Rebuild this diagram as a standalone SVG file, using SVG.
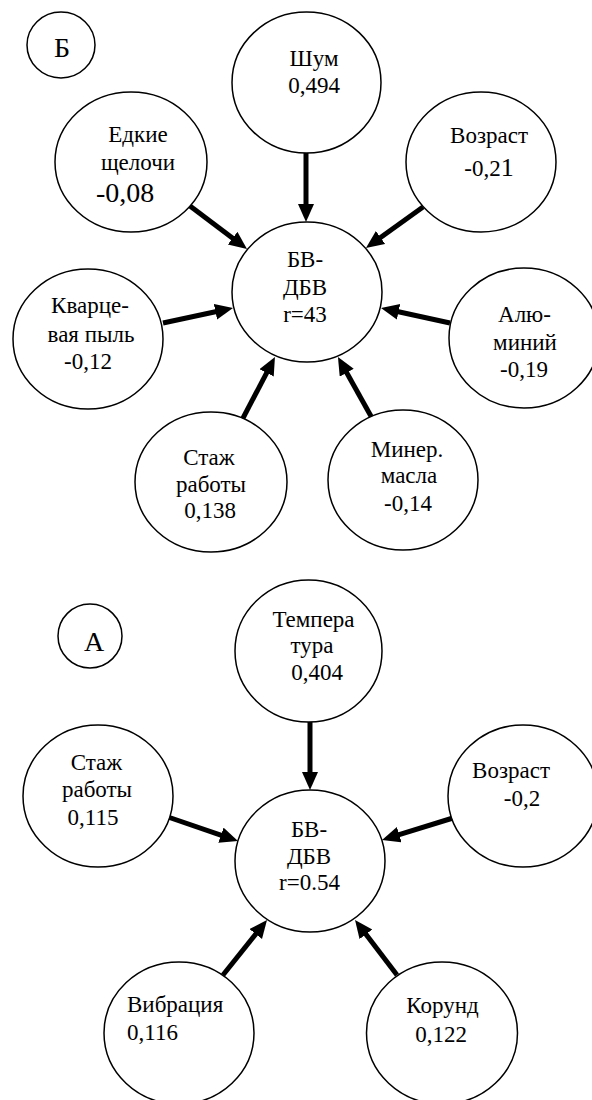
<svg xmlns="http://www.w3.org/2000/svg" width="592" height="1100" viewBox="0 0 592 1100">
<style>
.n{fill:#fff;stroke:#000;stroke-width:1.5}
text{font-family:"Times New Roman",Tinos,"Liberation Serif","Noto Serif","DejaVu Serif",serif;font-size:23px;fill:#000;text-anchor:middle}
.l{text-anchor:start}
.big{font-size:28px}
.c{stroke:#000;stroke-width:5;fill:none;marker-end:url(#ah)}
</style>
<defs>
<marker id="ah" markerUnits="userSpaceOnUse" markerWidth="20" markerHeight="18" refX="6" refY="8" orient="auto">
<path d="M0,0 L18,8 L0,16 z" fill="#000"/>
</marker>
</defs>
<rect width="592" height="1100" fill="#fff"/>
<g id="connectors">
<line class="c" x1="306" y1="153" x2="306" y2="210"/>
<line class="c" x1="190" y1="206" x2="237.4" y2="241.8"/>
<line class="c" x1="423" y1="207" x2="375.7" y2="241"/>
<line class="c" x1="163" y1="323" x2="221.3" y2="310.5"/>
<line class="c" x1="450" y1="323" x2="392.7" y2="310.5"/>
<line class="c" x1="242" y1="420" x2="269.4" y2="367.6"/>
<line class="c" x1="372" y1="418" x2="343.8" y2="367.5"/>
<line class="c" x1="310" y1="722" x2="310" y2="778"/>
<line class="c" x1="168" y1="817" x2="226.6" y2="837.1"/>
<line class="c" x1="453" y1="818" x2="393.5" y2="836.4"/>
<line class="c" x1="223" y1="975" x2="259.5" y2="929.4"/>
<line class="c" x1="397" y1="975" x2="362.3" y2="929.5"/>
</g>
<g id="label-B"><ellipse class="n" cx="61" cy="45" rx="34" ry="33"/><text class="big" x="62" y="57">Б</text></g>
<g id="shum"><ellipse class="n" cx="306.5" cy="82.5" rx="74.5" ry="70.5"/><text x="314" y="66">Шум</text><text x="314" y="93">0,494</text></g>
<g id="edkie"><ellipse class="n" cx="131" cy="162" rx="76" ry="70"/><text x="138" y="142">Едкие</text><text x="138" y="170">щелочи</text><text class="l big" x="96" y="202">-0,08</text></g>
<g id="vozrast-b"><ellipse class="n" cx="481" cy="162" rx="75" ry="70"/><text x="489" y="143">Возраст</text><text x="489" y="176">-0,2<tspan font-size="26">1</tspan></text></g>
<g id="center-b"><ellipse class="n" cx="307" cy="292" rx="75" ry="70"/><text x="305" y="267">БВ-</text><text x="305" y="295">ДБВ</text><text x="305" y="322">r=43</text></g>
<g id="kvarc"><ellipse class="n" cx="88" cy="339" rx="75" ry="70"/><text x="90" y="313">Кварце-</text><text x="91" y="342">вая пыль</text><text x="88" y="369">-0,12</text></g>
<g id="alum"><ellipse class="n" cx="524" cy="338" rx="75" ry="70"/><text x="524.5" y="322">Алю-</text><text x="525" y="350">миний</text><text x="524" y="377">-0,19</text></g>
<g id="stazh-b"><ellipse class="n" cx="211" cy="482" rx="76" ry="70"/><text x="209" y="465">Стаж</text><text x="211" y="492">работы</text><text x="210" y="518">0,138</text></g>
<g id="miner"><ellipse class="n" cx="403" cy="480" rx="75" ry="70"/><text x="407" y="457">Минер.</text><text x="409" y="483">масла</text><text x="408" y="511">-0,14</text></g>
<g id="label-A"><ellipse class="n" cx="90" cy="636" rx="32" ry="32"/><text class="big" x="94" y="651">А</text></g>
<g id="temp"><ellipse class="n" cx="308.5" cy="651" rx="73.5" ry="71"/><text x="313.5" y="627">Темпера</text><text x="312" y="653">тура</text><text x="317" y="680">0,404</text></g>
<g id="stazh-a"><ellipse class="n" cx="98" cy="796" rx="75" ry="71"/><text x="96.5" y="770">Стаж</text><text x="97" y="797">работы</text><text x="93" y="825">0,115</text></g>
<g id="vozrast-a"><ellipse class="n" cx="523" cy="796" rx="75" ry="71"/><text x="511" y="778">Возраст</text><text x="522" y="806">-0,2</text></g>
<g id="center-a"><ellipse class="n" cx="310" cy="861" rx="75" ry="71"/><text x="309" y="837">БВ-</text><text x="309" y="864">ДБВ</text><text x="309.5" y="890">r=0.54</text></g>
<g id="vibr"><ellipse class="n" cx="179" cy="1033" rx="75" ry="71"/><text class="l" x="127" y="1012">Вибрация</text><text class="l" x="127" y="1040">0,116</text></g>
<g id="korund"><ellipse class="n" cx="442" cy="1033" rx="75.5" ry="71"/><text x="442.5" y="1013">Корунд</text><text x="441" y="1042">0,122</text></g>
</svg>
